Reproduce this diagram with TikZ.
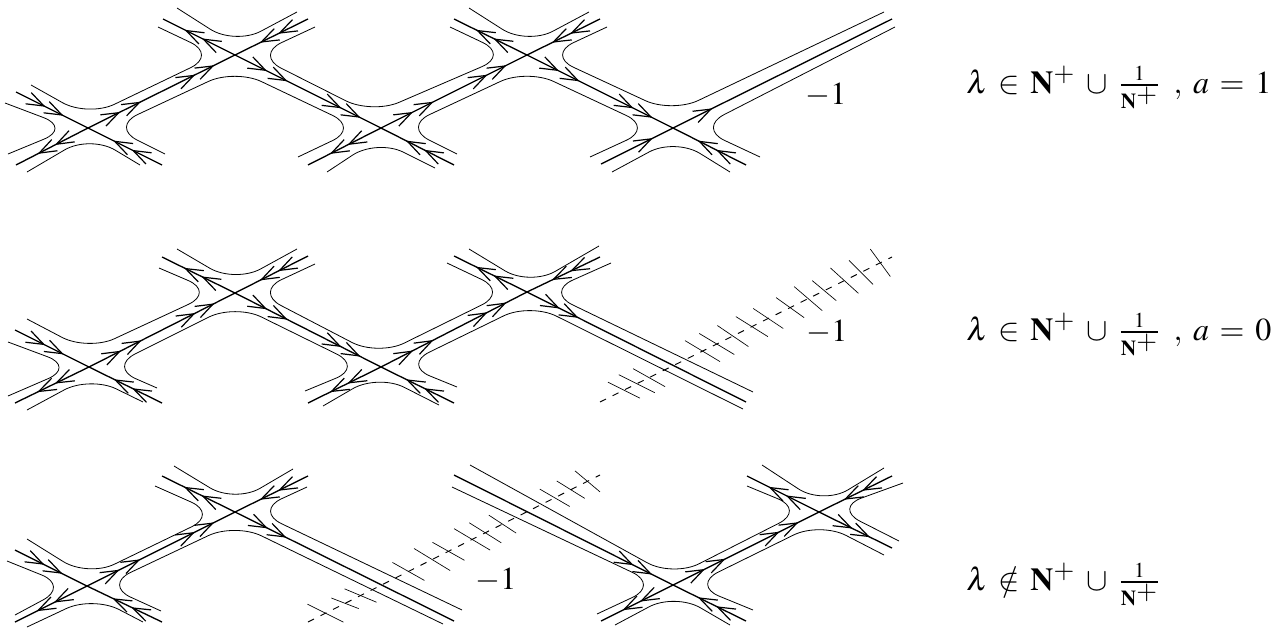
\documentclass[tikz,border=0pt]{standalone}
\usepackage{mathptmx}
\usetikzlibrary{
    arrows.meta,
    calc,
    decorations.markings
}
\DeclareMathSizes{24}{24}{16}{20}
\tikzstyle{contour} = [
    line width=0.6pt,
    rounded corners=22pt,
    draw=black
]
\tikzstyle{spine} = [
    line width=1pt,
    draw=black
]
\tikzstyle{hatch} = [
    line width=0.7pt,
    dash pattern=on 5pt off 5.5pt,
    draw=black
]
\tikzstyle{tickmark} = [
    line width=0.5pt,
    draw=black
]
\tikzstyle{caption} = [
    inner sep=0pt,
    anchor=base west,
    font=\fontsize{24}{28}\selectfont
]
\tikzset{
    barbtip/.tip={Straight Barb[length=13pt,width=9.4pt,line width=0.9pt]},
    onetip/.style={postaction={decorate,decoration={markings,
        mark=at position #1 with {\arrow{barbtip}}}}},
    twotips/.style 2 args={onetip=#1,onetip=#2},
    inarm/.style={twotips={0.41}{0.66}},
    outarm/.style={twotips={0.46}{0.70}},
    band/.style={twotips={0.22}{0.36},twotips={0.73}{0.86}}
}
\newcommand{\hatchline}[3]{%
    \draw[hatch] (#1) -- (#2);
    \foreach \pos/\dx/\dy in {#3} {
        \coordinate (tick) at ($(#1)!\pos!(#2)$);
        \draw[tickmark] ($(tick)+(-\dx,-\dy)$) -- ($(tick)+(\dx,\dy)$);
    }
}
\newcommand{\Nplus}{\mathbf{N}^{\scriptscriptstyle +}}
\newcommand{\caseset}{\,\Nplus\;\cup\;\frac{1}{\Nplus}}

\begin{document}
\begin{tikzpicture}[x=0.75pt, y=-0.75pt]
    \useasboundingbox (0,0) rectangle (1285,628);

    % Top row: saddles
    \coordinate (a1) at (88,128);
    \coordinate (b1) at (235,55);
    \coordinate (c1) at (381,128);
    \coordinate (d1) at (527,55);
    \coordinate (e1) at (673,128);

    \coordinate (a1nw) at (16,92);
    \coordinate (a1sw) at (16,165);
    \coordinate (a1se) at (162,165);
    \coordinate (b1nw) at (163,19);
    \coordinate (b1ne) at (308,19);
    \coordinate (c1sw) at (308,165);
    \coordinate (c1se) at (454,165);
    \coordinate (d1nw) at (454,19);
    \coordinate (d1ne) at (600,19);
    \coordinate (e1sw) at (601,164);
    \coordinate (e1se) at (746,165);
    \coordinate (e1ne) at (892,19);

    \draw[spine,inarm] (a1nw) -- (a1);
    \draw[spine,inarm] (a1se) -- (a1);
    \draw[spine,outarm] (a1) -- (a1sw);
    \draw[spine,band] (a1) -- (b1);
    \draw[spine,inarm] (b1ne) -- (b1);
    \draw[spine,outarm] (b1) -- (b1nw);
    \draw[spine,band] (b1) -- (c1);
    \draw[spine,inarm] (c1se) -- (c1);
    \draw[spine,outarm] (c1) -- (c1sw);
    \draw[spine,band] (c1) -- (d1);
    \draw[spine,inarm] (d1ne) -- (d1);
    \draw[spine,outarm] (d1) -- (d1nw);
    \draw[spine,band] (d1) -- (e1);
    \draw[spine,inarm] (e1se) -- (e1);
    \draw[spine,onetip=0.72] (e1sw) -- (e1);
    \draw[spine,onetip=0.18] (e1) -- (e1ne);

    % Top row: level curves
    \draw[contour] (31,85) -- (88,117) -- (217,55) -- (158,27);
    \draw[contour] (177,8) -- (235,45) -- (297,12);
    \draw[contour] (165,154) -- (111,127) -- (235,69) -- (359,128) -- (298,157);
    \draw[contour] (5,103) -- (71,128) -- (8,154);
    \draw[contour] (27,172) -- (90,135) -- (140,165);
    \draw[contour] (315,27) -- (255,55) -- (372,114) -- (509,55) -- (450,27);
    \draw[contour] (469,8) -- (527,45) -- (589,12);
    \draw[contour] (327,172) -- (377,139) -- (435,168);
    \draw[contour] (457,154) -- (403,127) -- (527,69) -- (653,128) -- (590,157);
    \draw[contour] (607,27) -- (547,55) -- (672,113) -- (884,12);
    \draw[contour] (612,172) -- (675,138) -- (730,172);
    \draw[contour] (760,157) -- (698,128) -- (895,27);

    % Middle row: saddles
    \coordinate (a2) at (89,367);
    \coordinate (b2) at (235,293);
    \coordinate (c2) at (381,367);
    \coordinate (d2) at (527,292);

    \coordinate (a2nw) at (15,330);
    \coordinate (a2sw) at (15,403);
    \coordinate (a2se) at (162,403);
    \coordinate (b2nw) at (162,257);
    \coordinate (b2ne) at (308,256);
    \coordinate (c2sw) at (308,403);
    \coordinate (c2se) at (454,403);
    \coordinate (d2nw) at (454,256);
    \coordinate (d2ne) at (600,257);
    \coordinate (d2se) at (746,402);

    \draw[spine,inarm] (a2nw) -- (a2);
    \draw[spine,inarm] (a2se) -- (a2);
    \draw[spine,outarm] (a2) -- (a2sw);
    \draw[spine,band] (a2) -- (b2);
    \draw[spine,inarm] (b2ne) -- (b2);
    \draw[spine,outarm] (b2) -- (b2nw);
    \draw[spine,band] (b2) -- (c2);
    \draw[spine,inarm] (c2se) -- (c2);
    \draw[spine,outarm] (c2) -- (c2sw);
    \draw[spine,band] (c2) -- (d2);
    \draw[spine,inarm] (d2ne) -- (d2);
    \draw[spine,outarm] (d2) -- (d2nw);
    \draw[spine,twotips={0.15}{0.235}] (d2) -- (d2se);

    % Middle row: level curves
    \draw[contour] (27,319) -- (88,351) -- (215,292) -- (159,268);
    \draw[contour] (177,249) -- (235,283) -- (297,249);
    \draw[contour] (157,388) -- (109,367) -- (235,304) -- (363,367) -- (305,391);
    \draw[contour] (8,342) -- (75,367) -- (8,396);
    \draw[contour] (27,410) -- (90,376) -- (143,402);
    \draw[contour] (315,264) -- (255,292) -- (378,356) -- (508,292) -- (447,263);
    \draw[contour] (469,249) -- (530,286) -- (599,246);
    \draw[contour] (323,406) -- (378,374) -- (439,405);
    \draw[contour] (457,387) -- (403,365) -- (530,303) -- (743,409);
    \draw[contour] (611,263) -- (546,292) -- (753,392);

    % Middle row: cut
    \coordinate (h2a) at (600,402);
    \coordinate (h2b) at (892,257);
    \hatchline{h2a}{h2b}{0.96/10/13.7, 0.894/12/12, 0.837/14/12.7, 0.768/12/10, 0.713/14/12,
        0.651/14/10, 0.576/15/10, 0.52/16/10, 0.455/15.5/10.5, 0.40/17.5/10.5, 0.351/17.5/10.5,
        0.168/16/9, 0.126/18/9, 0.082/16/8}

    % Bottom row: saddles
    \coordinate (a3) at (87,586);
    \coordinate (b3) at (235,512);
    \coordinate (f3) at (673,585);
    \coordinate (g3) at (819,512);

    \coordinate (a3nw) at (15,550);
    \coordinate (a3sw) at (15,622);
    \coordinate (a3se) at (162,622);
    \coordinate (b3nw) at (162,476);
    \coordinate (b3ne) at (308,476);
    \coordinate (b3se) at (454,621);
    \coordinate (f3nw) at (454,475);
    \coordinate (f3sw) at (601,621);
    \coordinate (f3se) at (746,621);
    \coordinate (g3nw) at (747,476);
    \coordinate (g3ne) at (892,476);
    \coordinate (g3se) at (892,548);

    \draw[spine,inarm] (a3nw) -- (a3);
    \draw[spine,inarm] (a3se) -- (a3);
    \draw[spine,outarm] (a3) -- (a3sw);
    \draw[spine,band] (a3) -- (b3);
    \draw[spine,inarm] (b3ne) -- (b3);
    \draw[spine,outarm] (b3) -- (b3nw);
    \draw[spine,twotips={0.15}{0.235}] (b3) -- (b3se);
    \draw[spine,twotips={0.82}{0.905}] (f3nw) -- (f3);
    \draw[spine,inarm] (f3se) -- (f3);
    \draw[spine,outarm] (f3) -- (f3sw);
    \draw[spine,band] (f3) -- (g3);
    \draw[spine,inarm] (g3ne) -- (g3);
    \draw[spine,outarm] (g3) -- (g3nw);
    \draw[spine,outarm] (g3) -- (g3se);

    % Bottom row: level curves
    \draw[contour] (27,539) -- (88,577) -- (218,514) -- (155,486);
    \draw[contour] (174,466) -- (235,503) -- (293,469);
    \draw[contour] (161,611) -- (104,585) -- (235,523) -- (443,624);
    \draw[contour] (7,561) -- (69,586) -- (15,615);
    \draw[contour] (27,627) -- (93,596) -- (143,622);
    \draw[contour] (307,487) -- (255,511) -- (462,610);
    \draw[contour] (470,465) -- (673,577) -- (805,510) -- (747,486);
    \draw[contour] (452,487) -- (659,585) -- (597,614);
    \draw[contour] (615,625) -- (675,593) -- (730,625);
    \draw[contour] (753,610) -- (692,585) -- (820,522) -- (884,555);
    \draw[contour] (762,465) -- (823,505) -- (884,468);
    \draw[contour] (903,483) -- (834,508) -- (899,541);

    % Bottom row: cut
    \coordinate (h3a) at (308,622);
    \coordinate (h3b) at (600,475);
    \hatchline{h3a}{h3b}{0.957/12.5/10.5, 0.90/14/8.7, 0.845/15/8.7, 0.666/13.7/9, 0.607/16/10,
        0.562/18/10.7, 0.481/16/9, 0.425/18/11, 0.344/16/9, 0.18/16/6.7, 0.127/13.7/5.3, 0.06/18/9}

    % Labels
    \node[caption, anchor=center] (minus1) at (826,95) {$-1$};
    \node[caption, anchor=center] (minus2) at (827,332) {$-1$};
    \node[caption, anchor=center] (minus3) at (496,580) {$-1$};
    \node[caption] (case1) at (966,93) {$\lambda\,\in\caseset\;\,\,,\;a\,=\,1$};
    \node[caption] (case2) at (966,340) {$\lambda\,\in\caseset\;\,\,,\;a\,=\,0$};
    \node[caption] (case3) at (966,590) {$\lambda\,\notin\caseset$};
\end{tikzpicture}
\end{document}
